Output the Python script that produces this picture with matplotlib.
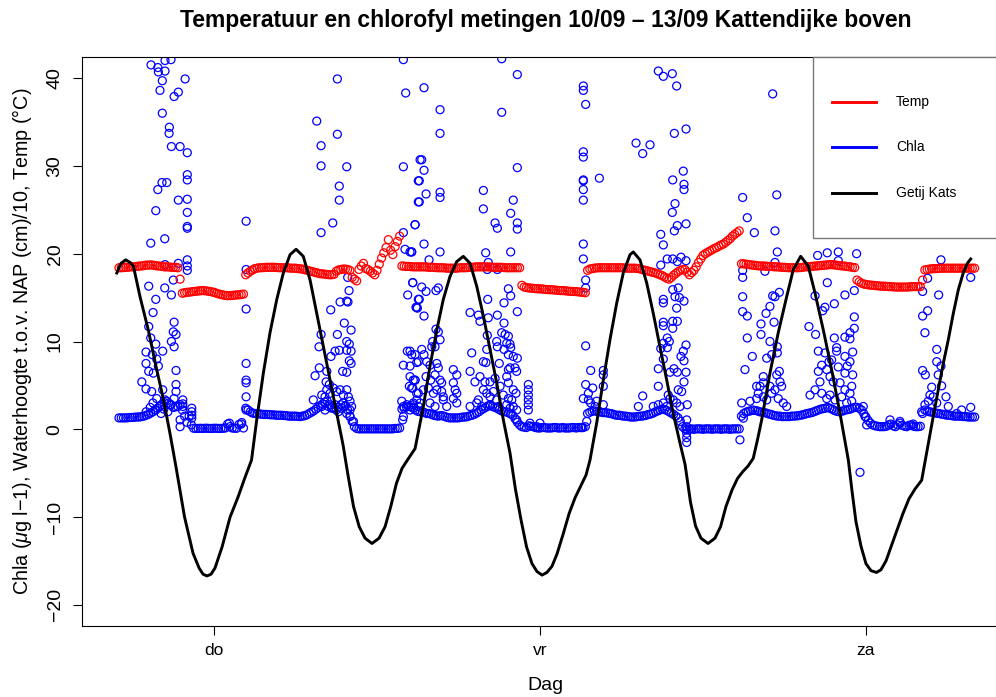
import numpy as np
import matplotlib
matplotlib.use("Agg")
import matplotlib.pyplot as plt
from matplotlib.patches import Rectangle
from matplotlib.lines import Line2D

plt.rcParams['font.family'] = ['Liberation Sans', 'DejaVu Sans']
plt.rcParams['mathtext.fontset'] = 'custom'
plt.rcParams['mathtext.rm'] = 'Liberation Sans'
plt.rcParams['mathtext.it'] = 'Liberation Sans:italic'
plt.rcParams['mathtext.bf'] = 'Liberation Sans:bold'

title = "Temperatuur en chlorofyl metingen 10/09 \u2013 13/09 Kattendijke boven"
ylabel = r"Chla ($\mu$g l$-$1), Waterhoogte t.o.v. NAP (cm)/10, Temp (°C)"
xlabel = "Dag"
day_labels = ["do", "vr", "za"]
day_ticks_h = [0, 24, 48]          # hours since Thursday 00:00
y_ticks = [-20, -10, 0, 10, 20, 30, 40]
legend_labels = ["Temp", "Chla", "Getij Kats"]

# regular 10-minute sampling (hours relative to Thursday 00:00)
t_start = -7.0
t_step = 1.0 / 6.0

temp = [
    # Wed evening
    18.4, 18.4, 18.42, 18.45, 18.45, 18.5, 18.5, 18.52, 18.55, 18.6, 18.6, 18.65, 18.7, 18.7, 18.72, 18.7,
    18.65, 18.6, 18.6, 18.55, 18.5, 18.5, 18.5, 18.45, 18.45, 18.45, 18.4,
    17.1,
    15.5, 15.55, 15.6, 15.62, 15.65, 15.7, 15.72, 15.75, 15.78, 15.8, 15.78, 15.75, 15.7, 15.65, 15.6, 15.5,
    15.42, 15.35, 15.3, 15.25, 15.22, 15.22, 15.25, 15.28, 15.3, 15.32, 15.35, 15.4,
    17.6, 17.8, 18.0, 18.15, 18.3, 18.35, 18.4, 18.4, 18.42, 18.45, 18.45, 18.45, 18.45, 18.45, 18.42, 18.4,
    18.4, 18.4, 18.4, 18.38, 18.35, 18.35, 18.35, 18.3, 18.28, 18.25, 18.18, 18.12, 18.05, 17.98, 17.92, 17.85,
    17.78, 17.72, 17.7, 17.66, 17.63, 17.6, 17.6, 17.65, 18.0, 18.15, 18.2, 18.25, 18.25, 18.2, 18.1,
    17.3, 17.1, 16.9, 18.2, 18.6, 18.9, 18.3, 18.2, 18.0, 17.8, 17.6, 18.1, 18.8, 19.5, 20.1, 20.7, 21.6,
    20.4, 19.9, 20.8, 21.4, 22.0,
    18.6, 18.58, 18.55, 18.55, 18.52, 18.5, 18.5, 18.5, 18.5, 18.5, 18.5, 18.48, 18.45, 18.45, 18.45, 18.42,
    18.4, 18.4, 18.4, 18.38, 18.35, 18.35, 18.35, 18.35, 18.35, 18.38, 18.4, 18.4, 18.4, 18.42, 18.45, 18.45,
    18.48, 18.5, 18.5, 18.5, 18.5, 18.5, 18.5, 18.48, 18.45, 18.45, 18.45, 18.45, 18.45, 18.42, 18.4, 18.4,
    18.4, 18.4, 18.4, 18.4, 18.4,
    16.4, 16.2, 16.15, 16.1, 16.08, 16.05, 16.02, 16.0, 16.0, 15.98, 15.95, 15.92, 15.9, 15.9, 15.88, 15.85,
    15.82, 15.8, 15.8, 15.78, 15.75, 15.72, 15.7, 15.7, 15.68, 15.65, 15.62, 15.6, 15.55,
    18.1, 18.25, 18.3, 18.35, 18.38, 18.4, 18.4, 18.4, 18.4, 18.4, 18.4, 18.4, 18.4, 18.4, 18.4, 18.4,
    18.38, 18.35, 18.35, 18.35, 18.35, 18.35, 18.32, 18.28, 18.2, 18.13, 18.07, 18.0, 17.93, 17.87, 17.8, 17.7,
    17.6, 17.5, 17.35, 17.2, 17.1, 17.3, 17.55, 17.75, 17.95, 18.1, 18.2, 18.2, 17.9, 17.6, 17.85, 18.1,
    18.5, 19.0, 19.4, 19.8, 20.0, 20.15, 20.3, 20.45, 20.6, 20.7, 20.85, 21.0, 21.1, 21.3, 21.5, 21.7,
    22.0, 22.2, 22.4, 22.6,
    18.85, 18.85, 18.8, 18.77, 18.73, 18.7, 18.67, 18.63, 18.6, 18.6, 18.6, 18.57, 18.55, 18.55, 18.52, 18.5,
    18.5, 18.47, 18.45, 18.45, 18.42, 18.4, 18.4, 18.4, 18.4, 18.4, 18.42, 18.45, 18.5, 18.5, 18.52, 18.55,
    18.58, 18.6, 18.62, 18.65, 18.68, 18.7, 18.73, 18.75, 18.75, 18.72, 18.7, 18.65, 18.62, 18.6, 18.57, 18.53,
    18.5, 18.45, 18.42,
    17.0, 16.8, 16.65, 16.55, 16.5, 16.45, 16.42, 16.4, 16.37, 16.35, 16.32, 16.3, 16.3, 16.28, 16.25, 16.25,
    16.23, 16.2, 16.2, 16.2, 16.2, 16.2, 16.2, 16.22, 16.25, 16.25, 16.25, 16.25, 16.25,
    17.0,
    18.15, 18.2, 18.25, 18.28, 18.3, 18.3, 18.32, 18.35, 18.35, 18.35, 18.35, 18.35, 18.35, 18.35, 18.35, 18.35,
    18.35, 18.35, 18.35, 18.35, 18.35, 18.35, 18.35,
]

chla_base = [
    1.3, 1.3, 1.3, 1.3, 1.32, 1.35, 1.35, 1.38, 1.4, 1.4, 1.45, 1.5, 1.6, 1.7, 1.85, 2.0,
    2.2, 2.4, 2.6, 2.85, 3.05, 3.2, 3.0, 2.8, 2.5, 2.55, 2.6,
    2.8,
    2.2, 1.5, 0.8, 1.5, 0.5,
    0.12, 0.1, 0.1, 0.12, 0.1, 0.12, 0.12, 0.1, 0.1, 0.12, 0.12, 0.1, 0.1, 0.12, 0.15, 0.6,
    0.3, 0.15, 0.12, 0.12, 0.55, 0.6, 0.15,
    2.4, 2.2, 2.0, 1.85, 1.8, 1.78, 1.75, 1.72, 1.7, 1.7, 1.68, 1.65, 1.65, 1.62, 1.6, 1.6,
    1.6, 1.57, 1.55, 1.5, 1.5, 1.5, 1.5, 1.47, 1.45, 1.5, 1.55, 1.65, 1.8, 1.95, 2.1, 2.3,
    2.5, 2.7, 2.9, 3.1, 3.2, 2.8, 2.5, 2.4, 2.2, 2.5, 2.8, 3.0, 2.7, 2.2, 1.5,
    0.9, 0.3, 0.1, 0.05, 0.05, 0.05, 0.05, 0.05, 0.05, 0.05, 0.05, 0.05, 0.05, 0.05, 0.05, 0.05,
    0.05, 0.05, 0.05, 0.1, 0.1, 0.15,
    2.3, 2.4, 2.55, 2.6, 2.55, 2.4, 2.2, 2.05, 2.0, 2.0, 1.9, 1.8, 1.8, 1.7, 1.6, 1.55,
    1.5, 1.55, 1.55, 1.45, 1.35, 1.3, 1.3, 1.3, 1.3, 1.3, 1.35, 1.4, 1.4, 1.45, 1.55, 1.6,
    1.7, 1.85, 2.0, 2.2, 2.35, 2.5, 2.65, 2.7, 2.6, 2.5, 2.4, 2.25, 2.1, 2.0, 2.0, 1.9,
    1.75, 1.6, 1.2, 0.8, 0.5,
    0.3, 0.25, 0.2, 0.4, 0.35, 0.3, 0.2, 0.15, 0.15, 0.2, 0.2, 0.15, 0.15, 0.15, 0.2, 0.2,
    0.15, 0.15, 0.2, 0.15, 0.15, 0.15, 0.2, 0.2, 0.15, 0.2, 0.2, 0.2, 0.3,
    1.8, 1.95, 2.05, 2.1, 2.05, 2.0, 1.95, 1.9, 1.9, 1.85, 1.8, 1.75, 1.65, 1.6, 1.6, 1.55,
    1.5, 1.5, 1.45, 1.4, 1.4, 1.4, 1.45, 1.5, 1.5, 1.55, 1.6, 1.7, 1.75, 1.85, 2.0, 2.1,
    2.2, 2.3, 2.25, 2.15, 2.0, 1.85, 1.7, 1.5, 1.3, 0.9, 0.3,
    0.05, 0.0, 0.05, 0.05, 0.0, 0.05, 0.05, 0.05, 0.0, 0.05, 0.05, 0.05, 0.0, 0.05, 0.05, 0.05,
    0.0, 0.05, 0.05, 0.05, 0.0, 0.05, 0.05, 0.05, 0.05,
    1.5, 1.8, 1.95, 2.05, 2.1, 2.2, 2.15, 2.1, 2.0, 1.95, 1.9, 1.85, 1.75, 1.7, 1.6, 1.55,
    1.5, 1.5, 1.45, 1.45, 1.45, 1.45, 1.5, 1.5, 1.52, 1.55, 1.6, 1.65, 1.72, 1.8, 1.85, 1.9,
    2.0, 2.1, 2.2, 2.3, 2.35, 2.4, 2.5, 2.4, 2.3, 2.15, 2.05, 2.0, 2.05, 2.1, 2.2, 2.25,
    2.3, 2.4, 2.5,
    2.5, 2.4, 2.2, 1.8, 1.4, 1.0, 0.7, 0.5, 0.4, 0.35, 0.3, 0.3, 0.3, 0.35, 0.5, 0.6,
    0.4, 0.3, 0.5, 0.7, 0.45, 0.35, 0.3, 0.45, 0.5, 0.35, 0.3, 0.3, 0.35,
    1.8,
    2.2, 2.1, 2.0, 1.95, 1.9, 1.85, 1.8, 1.75, 1.7, 1.65, 1.6, 1.6, 1.55, 1.5, 1.5, 1.5,
    1.5, 1.45, 1.45, 1.4, 1.4, 1.4, 1.4,
]

# extra (burst) chlorophyll readings: (hour, value)
chla_extra = [
    (-4.64, 41.5), (-4.14, 41.2), (-3.61, 42.0), (-3.17, 42.1), (-4.10, 40.7), (-3.61, 40.8), (-3.81, 39.7),
    (-2.13, 39.9), (-3.98, 38.6), (-2.63, 38.4), (-2.94, 37.9), (-3.81, 36.0), (-3.29, 34.4), (-3.31, 33.7),
    (-3.14, 32.2), (-2.50, 32.2), (-1.97, 31.5), (-1.97, 29.0), (-1.97, 28.4), (-3.83, 28.1), (-3.48, 28.1),
    (-4.14, 27.3), (-2.63, 26.1), (-1.97, 26.2), (-4.29, 24.9), (-1.97, 24.7), (-1.97, 23.1), (-1.97, 22.9),
    (-4.66, 21.2), (-3.63, 21.7), (-1.97, 19.3), (-2.63, 18.9), (-1.97, 18.6), (-1.97, 18.1), (-3.61, 18.75),
    (-3.00, 17.0), (-4.81, 16.3), (-3.63, 16.1), (-3.14, 15.3), (-4.29, 14.8), (-4.49, 13.3), (-2.94, 12.2),
    (-4.81, 11.7), (-3.00, 11.1), (-2.80, 10.8), (-4.66, 10.4), (-3.14, 10.0), (-4.29, 9.7), (-2.94, 9.4),
    (-3.78, 8.9), (-5.01, 8.8), (-4.54, 8.5), (-4.22, 8.0), (-5.01, 7.5), (-4.10, 7.2), (-4.81, 6.6),
    (-2.80, 6.7), (-4.47, 6.4), (-5.32, 5.4), (-5.01, 4.6), (-2.80, 5.1), (-2.80, 4.3), (-4.59, 4.3),
    (-3.78, 4.5), (-4.22, 3.5), (-3.61, 3.35), (-2.94, 3.5), (-3.24, 2.8), (-3.90, 1.8), (-2.30, 3.35),
    (-2.30, 2.9), (-2.30, 2.6), (-2.50, 1.07), (-2.50, 0.3), (-1.64, 2.4), (-1.64, 2.0), (-1.64, 1.6),
    (-1.64, 1.27), (1.13, 0.7), (2.04, 0.77), (2.36, 23.7), (2.36, 18.2), (2.36, 13.7), (2.36, 7.5),
    (2.36, 5.6), (2.36, 5.3), (2.36, 3.7), (2.36, 2.2),
    (-5.0, 2.0), (-4.7, 2.5), (-4.5, 3.0), (-4.3, 2.2), (-4.0, 2.6), (-3.7, 2.3), (-3.4, 2.0),
    (13.94, 42.1), (9.08, 39.9), (14.11, 38.3), (7.56, 35.1), (9.08, 33.6), (7.88, 32.3), (7.88, 30.0),
    (9.77, 29.9), (13.94, 29.9), (15.17, 30.7), (9.22, 27.7), (15.04, 28.3), (9.22, 26.1), (15.04, 25.9),
    (8.74, 23.5), (14.80, 23.3), (7.88, 22.4), (13.94, 22.4), (14.06, 20.5), (14.43, 20.2), (14.55, 20.2),
    (9.84, 17.3), (9.94, 15.8), (9.28, 14.5), (9.77, 14.6), (9.86, 14.5), (8.59, 13.6), (14.63, 16.7),
    (14.26, 15.3), (15.04, 14.8), (14.87, 13.9), (9.59, 12.1), (10.09, 11.3), (9.08, 10.8), (7.88, 10.8),
    (9.77, 10.0), (9.96, 9.7), (9.77, 9.0), (10.09, 8.9), (9.22, 9.0), (8.91, 8.9), (8.61, 8.3), (7.73, 9.4),
    (9.96, 7.8), (10.09, 7.5), (9.47, 6.6), (9.77, 6.5), (7.75, 7.0), (8.30, 6.6), (7.44, 6.1), (8.25, 5.4),
    (8.49, 5.1), (14.23, 8.9), (14.55, 8.5), (15.04, 7.7), (13.94, 7.3), (14.43, 7.2), (14.80, 5.6),
    (14.63, 4.7), (15.04, 4.1), (7.31, 3.35), (7.93, 3.9), (8.17, 3.7), (8.30, 4.5), (8.54, 4.1), (8.78, 4.7),
    (9.03, 4.3), (9.28, 4.5), (9.52, 3.9), (9.77, 4.5), (9.89, 3.7), (10.01, 3.2), (10.13, 2.6), (10.01, 2.2),
    (7.93, 2.6), (8.17, 2.2), (8.41, 2.6), (8.66, 2.4), (8.91, 2.8), (9.15, 2.0), (9.40, 2.4), (9.64, 2.6),
    (9.77, 1.8), (10.01, 1.45), (10.26, 0.9), (13.82, 3.2), (13.94, 2.6), (14.19, 2.8), (14.43, 2.2),
    (14.67, 3.0), (14.92, 3.35), (15.04, 2.6), (13.94, 1.45), (13.89, 1.07), (14.67, 5.6), (14.38, 4.9),
    (21.18, 42.2), (22.33, 40.4), (15.46, 38.9), (16.64, 36.4), (21.18, 36.1), (16.64, 33.7), (15.29, 30.7),
    (15.46, 29.5), (22.33, 29.8), (15.11, 28.3), (15.61, 26.8), (15.11, 25.9), (16.64, 27.0), (16.64, 26.4),
    (19.83, 27.2), (19.83, 25.1), (22.03, 26.1), (21.84, 24.6), (20.69, 23.5), (20.86, 22.9), (22.33, 23.5),
    (22.33, 22.8), (14.80, 23.3), (15.46, 21.1), (16.64, 20.2), (14.55, 20.2), (20.00, 20.1), (21.84, 20.2),
    (15.83, 19.3), (20.19, 19.0), (20.86, 18.2), (20.12, 18.2), (14.63, 16.7), (15.29, 16.2), (15.61, 15.7),
    (16.34, 15.8), (16.51, 16.1), (21.67, 16.0), (21.84, 15.2), (15.11, 14.8), (14.92, 13.9), (14.97, 13.8),
    (21.35, 14.4), (22.33, 13.4), (20.15, 14.8), (15.46, 12.9), (18.85, 13.3), (19.46, 13.0), (19.58, 12.3),
    (20.19, 12.7), (20.86, 13.0), (21.35, 12.1), (16.34, 11.4), (16.51, 11.1), (16.64, 10.2), (20.12, 10.7),
    (21.18, 11.0), (21.43, 10.8), (21.67, 10.6), (16.10, 10.0), (16.03, 9.4), (16.27, 9.4), (20.81, 10.0),
    (20.86, 9.4), (21.55, 9.8), (21.79, 9.7), (21.84, 9.3), (14.43, 8.9), (14.80, 8.5), (15.29, 9.1),
    (15.46, 8.5), (18.97, 8.7), (20.08, 9.1), (21.35, 9.1), (21.67, 8.5), (22.03, 8.3), (22.33, 8.1),
    (14.92, 7.6), (15.66, 7.7), (15.90, 7.3), (16.40, 7.5), (16.51, 7.0), (19.83, 7.7), (20.02, 7.6),
    (21.00, 7.5), (21.67, 6.8), (21.79, 7.0), (22.16, 7.0), (22.28, 6.6), (14.43, 6.0), (14.80, 5.6),
    (15.61, 6.0), (15.95, 5.6), (16.27, 6.2), (16.64, 5.6), (16.76, 5.3), (17.62, 6.8), (17.87, 6.2),
    (18.85, 6.6), (19.21, 5.4), (19.58, 6.0), (19.95, 5.4), (20.32, 5.4), (20.69, 5.8), (21.06, 4.9),
    (21.55, 6.0), (21.67, 5.3), (22.03, 4.5), (22.23, 4.1), (14.55, 4.7), (14.92, 4.1), (15.41, 4.5),
    (15.78, 4.7), (16.15, 4.1), (16.40, 4.5), (16.76, 4.3), (16.88, 3.7), (17.62, 5.3), (17.75, 4.5),
    (17.87, 4.1), (17.62, 3.5), (17.87, 3.0), (19.46, 3.35), (19.83, 4.5), (20.08, 4.1), (20.32, 3.7),
    (20.56, 4.3), (20.81, 3.35), (21.30, 3.9), (21.67, 3.5), (21.92, 3.35), (22.28, 2.2), (23.14, 5.1),
    (23.14, 4.5), (23.14, 3.9), (23.14, 3.35), (23.14, 2.8), (23.14, 2.2), (14.67, 2.8), (15.17, 3.0),
    (15.90, 3.0), (16.27, 2.6), (16.88, 3.35), (17.13, 2.6), (18.85, 2.6), (19.34, 3.0), (19.71, 2.6),
    (20.32, 2.8), (20.93, 2.6), (21.55, 2.8), (21.79, 2.4), (22.03, 2.6), (22.28, 1.07), (23.26, 0.7),
    (23.76, 0.3), (24.00, 0.7),
    (32.71, 40.8), (33.08, 40.2), (33.74, 40.5), (34.06, 39.1), (27.19, 39.1), (27.19, 38.6), (27.36, 37.0),
    (34.75, 34.2), (33.89, 33.7), (31.07, 32.6), (32.10, 32.4), (31.56, 31.4), (27.19, 31.6), (27.19, 31.0),
    (28.37, 28.6), (27.19, 28.4), (27.19, 28.3), (27.19, 27.3), (27.19, 26.1), (33.77, 28.4), (34.55, 29.4),
    (34.60, 27.9), (34.60, 27.3), (33.94, 25.7), (33.74, 24.7), (34.75, 23.4), (34.11, 23.2), (33.89, 22.6),
    (32.89, 22.2), (33.08, 21.0), (27.19, 21.1), (27.19, 19.4), (33.37, 19.4), (33.77, 19.4), (34.11, 19.1),
    (34.38, 19.6), (34.75, 19.2), (32.89, 18.7), (27.36, 17.0), (27.36, 16.1), (33.77, 15.9), (34.18, 16.1),
    (33.94, 15.1), (34.26, 15.0), (34.60, 14.6), (33.08, 14.8), (33.08, 14.4), (34.06, 13.8), (33.08, 12.2),
    (33.77, 12.3), (34.11, 12.3), (33.77, 11.5), (33.08, 11.8), (33.37, 10.4), (33.52, 10.0), (33.08, 9.8),
    (33.37, 9.3), (32.89, 9.2), (34.75, 9.6), (34.55, 8.9), (34.38, 8.3), (34.60, 7.8), (27.36, 9.5),
    (33.08, 8.0), (32.71, 6.9), (33.57, 6.5), (33.86, 6.9), (34.11, 6.5), (34.75, 6.5), (27.73, 6.7),
    (28.66, 6.7), (28.66, 6.2), (34.60, 5.4), (32.71, 4.9), (34.43, 4.3), (34.18, 4.5), (27.36, 5.1),
    (27.88, 4.7), (27.56, 4.1), (28.66, 4.9), (27.19, 3.5), (27.56, 3.35), (27.73, 3.0), (31.56, 3.8),
    (31.24, 2.6), (33.44, 3.9), (33.57, 3.5), (33.81, 3.35), (33.08, 3.0), (34.84, 2.8), (28.17, 3.2),
    (28.66, 2.8), (28.05, 2.6), (32.34, 2.6), (32.71, 2.8), (33.33, 2.6), (34.06, 3.0), (34.31, 2.6),
    (27.44, 0.9), (27.07, 0.2), (34.80, 1.07), (34.80, 0.3), (34.80, -0.07), (34.80, -0.45), (34.80, -0.95),
    (34.80, -1.5), (38.72, -1.2),
    (41.13, 38.2), (38.92, 26.4), (41.43, 26.7), (39.26, 24.1), (39.78, 22.4), (41.30, 22.6), (41.47, 20.2),
    (44.44, 19.8), (45.15, 20.1), (45.96, 20.2), (47.31, 20.0), (41.30, 19.0), (45.96, 19.2), (40.56, 18.0),
    (38.92, 18.1), (38.92, 17.3), (45.15, 16.7), (46.45, 15.3), (47.14, 15.8), (38.92, 15.1), (44.25, 15.2),
    (41.62, 15.6), (41.13, 15.2), (41.30, 15.1), (38.92, 13.4), (39.26, 12.9), (40.93, 14.0), (40.64, 13.2),
    (45.67, 14.3), (44.98, 13.9), (44.81, 13.5), (47.14, 12.8), (47.14, 11.5), (46.82, 11.0), (46.45, 10.5),
    (46.82, 10.3), (40.27, 12.0), (41.23, 12.2), (40.27, 10.8), (39.26, 10.4), (43.80, 11.7), (44.29, 10.8),
    (45.67, 10.4), (45.84, 9.3), (45.84, 8.9), (40.93, 10.0), (41.47, 9.4), (41.47, 8.7), (41.06, 8.5),
    (40.69, 8.1), (44.49, 8.9), (44.98, 8.7), (45.28, 7.7), (45.47, 7.9), (45.96, 7.1), (46.45, 8.3),
    (47.02, 8.8), (46.82, 7.7), (46.62, 7.2), (47.02, 6.2), (46.45, 6.4), (39.63, 8.3), (39.09, 6.8),
    (41.62, 6.6), (41.43, 6.2), (40.44, 6.0), (39.95, 4.9), (44.49, 6.6), (44.74, 7.3), (45.11, 6.8),
    (45.35, 6.0), (44.61, 5.4), (45.59, 5.4), (46.09, 5.3), (46.45, 4.5), (46.95, 4.9), (46.82, 4.1),
    (41.67, 5.4), (41.79, 4.9), (41.30, 4.5), (40.93, 4.9), (40.44, 5.3), (40.20, 4.9), (40.07, 4.1),
    (43.88, 3.9), (44.25, 4.5), (44.74, 4.1), (45.11, 3.5), (45.35, 3.9), (45.72, 3.35), (46.21, 3.7),
    (46.58, 3.0), (46.95, 3.2), (38.85, 3.0), (39.46, 3.2), (39.95, 3.5), (40.44, 3.7), (40.69, 3.35),
    (41.06, 4.1), (41.54, 3.5), (41.91, 3.0), (42.16, 2.6), (38.97, 1.27), (47.80, 2.6), (47.93, 1.45),
    (48.05, 0.5), (47.56, -4.9),
    (53.52, 19.3), (55.71, 17.3), (52.54, 17.2), (52.17, 15.7), (53.35, 15.3), (52.54, 13.5), (52.17, 12.9),
    (52.34, 11.0), (53.21, 9.1), (53.21, 7.7), (52.17, 6.7), (52.37, 6.2), (53.52, 7.2), (53.32, 6.2),
    (52.84, 4.8), (53.57, 4.95), (52.71, 3.9), (52.95, 3.7), (53.89, 3.7), (52.59, 3.2), (52.34, 2.8),
    (53.21, 3.0), (52.10, 2.0), (54.06, 2.6), (55.04, 2.2), (55.71, 2.5), (54.68, 1.8), (49.77, 1.07),
    (50.50, 0.9), (51.48, 0.6),
]

# tide at Kats (cm NAP / 10)
tide_t = [-7.16, -6.85, -6.50, -6.18, -5.94, -5.45, -4.84, -4.22, -3.72, -3.24,
          -2.80, -2.17, -1.55, -1.10, -0.81, -0.52, -0.22, 0.07, 0.59, 1.18,
          1.77, 2.25, 2.76, 3.14, 3.63, 4.12, 4.62, 5.10, 5.60, 6.04,
          6.57, 7.07, 7.56, 8.05, 8.54, 9.03, 9.50, 9.86, 10.27, 10.69,
          11.12, 11.63, 12.15, 12.59, 13.01, 13.43, 13.84, 14.28, 14.80, 15.41,
          15.90, 16.40, 16.88, 17.37, 17.87, 18.35, 18.85, 19.34, 19.83, 20.32,
          20.81, 21.30, 21.79, 22.20, 22.60, 23.01, 23.41, 23.78, 24.15, 24.51,
          24.88, 25.25, 25.69, 26.14, 26.58, 27.02, 27.39, 27.68, 28.17, 28.66,
          29.15, 29.65, 30.13, 30.63, 30.87, 31.36, 31.85, 32.34, 32.83, 33.33,
          33.81, 34.31, 34.68, 35.08, 35.45, 35.85, 36.37, 36.88, 37.29, 37.69,
          38.14, 38.54, 38.94, 39.31, 39.70, 40.01, 40.32, 40.93, 41.54, 42.16,
          42.65, 43.19, 43.75, 44.25, 44.86, 45.47, 46.09, 46.70, 46.97, 47.26,
          47.63, 48.00, 48.37, 48.77, 49.10, 49.47, 49.84, 50.28, 50.72, 51.17,
          51.61, 52.10, 52.59, 52.95, 53.32, 53.69, 54.06, 54.43, 54.80, 55.16,
          55.46, 55.71]
tide_v = [17.8, 18.9, 19.3, 19.0, 18.6, 15.1, 11.3, 6.8, 3.35, -0.5,
          -4.3, -10.0, -14.1, -15.8, -16.5, -16.7, -16.5, -15.8, -13.4, -10.0,
          -7.7, -5.6, -3.5, 1.07, 6.4, 11.0, 14.8, 17.8, 19.9, 20.5,
          19.7, 17.0, 13.2, 9.4, 5.6, 1.8, -1.8, -5.2, -8.8, -11.1,
          -12.4, -13.0, -12.4, -11.1, -8.8, -6.15, -4.45, -3.4, -2.2, 2.6,
          7.2, 11.3, 14.8, 17.4, 19.1, 19.7, 18.9, 16.3, 12.9, 9.1,
          5.3, 1.07, -2.7, -6.9, -10.3, -13.4, -15.3, -16.2, -16.6, -16.3,
          -15.6, -14.2, -12.0, -9.6, -7.8, -6.4, -5.2, -3.5, 0.7, 5.6,
          10.2, 14.4, 17.8, 19.9, 20.2, 19.3, 16.7, 13.2, 9.4, 5.6,
          1.8, -1.6, -4.0, -8.3, -11.0, -12.4, -13.0, -12.4, -11.1, -8.8,
          -6.9, -5.6, -4.8, -4.2, -3.3, -1.2, 1.07, 6.4, 11.0, 15.1,
          18.2, 19.7, 18.6, 15.5, 11.3, 6.8, 1.8, -3.5, -7.0, -10.5,
          -13.3, -15.3, -16.1, -16.3, -16.0, -15.0, -13.4, -11.5, -9.6, -7.9,
          -6.8, -5.8, -1.6, 1.45, 4.5, 7.5, 10.2, 13.2, 15.9, 17.8,
          18.9, 19.4]

# ---------------------------------------------------------------
t_temp = t_start + t_step * np.arange(len(temp))
t_chla = t_start + t_step * np.arange(len(chla_base))
ext_t, ext_v = zip(*chla_extra)
n = min(len(tide_t), len(tide_v))

W, H = 996, 697
fig = plt.figure(figsize=(W / 100, H / 100), dpi=100)
ax_l, ax_r, ax_t, ax_b = 82.3, 1009.0, 57.0, 626.0
ax = fig.add_axes([ax_l / W, 1 - ax_b / H, (ax_r - ax_l) / W, (ax_b - ax_t) / H])

blue = '#0000FF'
red = '#FF0000'
mk = dict(s=33, facecolors='none', linewidths=0.9)
ax.scatter(t_chla, chla_base, edgecolors=blue, zorder=2, **mk)
ax.scatter(ext_t, ext_v, edgecolors=blue, zorder=2, **mk)
ax.scatter(t_temp, temp, edgecolors=red, zorder=3, **mk)
ax.plot(tide_t[:n], tide_v[:n], color='black', lw=2.1, zorder=4, solid_joinstyle='round')

ax.set_xlim(-9.70, 58.53)
ax.set_ylim(-22.4, 42.4)
ax.set_xticks(day_ticks_h)
ax.set_xticklabels(day_labels)
ax.set_yticks(y_ticks)
ax.set_yticklabels([str(v).replace('-', '\u2212') for v in y_ticks])
ax.tick_params(axis='both', direction='out', length=6.5, width=0.8, colors='black')
ax.tick_params(axis='x', pad=6.0, labelsize=12.5)
ax.tick_params(axis='y', pad=7.0, labelsize=14)
plt.setp(ax.get_yticklabels(), rotation=90, va='center', ha='right')
for s in ax.spines.values():
    s.set_linewidth(0.8)
    s.set_color('black')

# title and axis labels
cx = ((ax_l + ax_r) / 2) / W
fig.text(cx, 1 - 20 / H, title, ha='center', va='center', fontsize=16.5, fontweight='bold')
fig.text(cx, 1 - 686 / H, xlabel, ha='center', va='center', fontsize=14)
fig.text(22 / W, 1 - ((ax_t + ax_b) / 2) / H, ylabel, rotation=90, ha='center', va='center', fontsize=14.2)

# legend (box runs off the right edge as in the original)
def fx(px):
    return (px - ax_l) / (ax_r - ax_l)

def fy(py):
    return 1 - (py - ax_t) / (ax_b - ax_t)

box = Rectangle((fx(813), fy(238)), fx(1030) - fx(813), fy(57) - fy(238), transform=ax.transAxes,
                facecolor='white', edgecolor='#777777', lw=1.0, zorder=10, clip_on=False)
ax.add_patch(box)
for lab, col, py in zip(legend_labels, [red, blue, 'black'], [102, 147, 193]):
    ax.add_line(Line2D([fx(832), fx(876)], [fy(py), fy(py)], transform=ax.transAxes, color=col, lw=2.1,
                       zorder=11, clip_on=False))
    ax.text(fx(896), fy(py), lab, transform=ax.transAxes, fontsize=10, va='center', ha='left', zorder=11)

fig.savefig('out.png', dpi=100)
